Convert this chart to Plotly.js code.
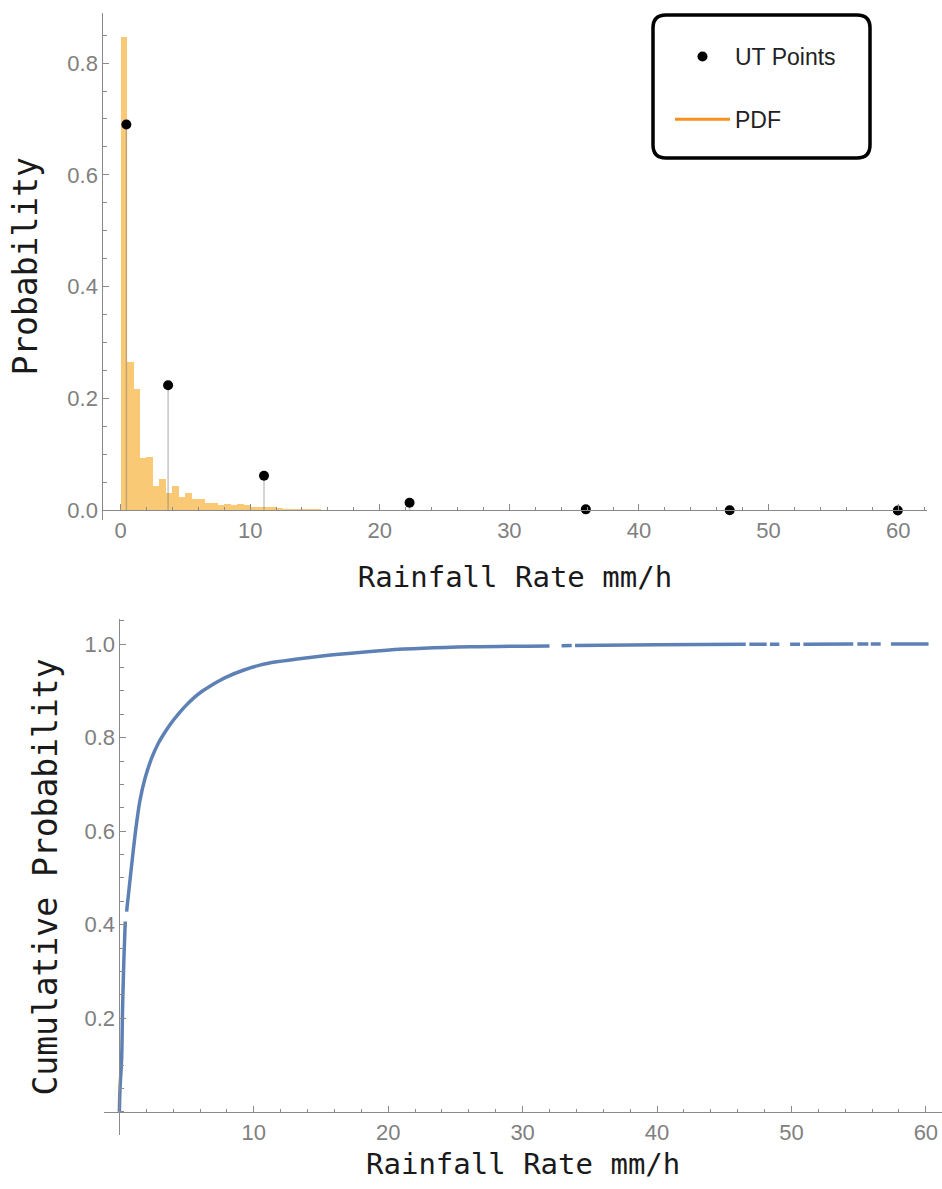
<!DOCTYPE html>
<html><head><meta charset="utf-8">
<script src="https://cdn.plot.ly/plotly-3.0.1.min.js"></script>
<style>html,body{margin:0;padding:0;background:#fff;}#chart{width:942px;height:1189px;}</style>
</head><body><div id="chart"></div>
<script>
// ---------- DATA ----------
// Histogram of rainfall rate (PDF): bin left edges (mm/h, width 0.5) and density
const binLeft = [0,0.5,1,1.5,2,2.5,3,3.5,4,4.5,5,5.5,6,6.5,7,7.5,8,8.5,9,9.5,10,10.5,11,11.5,12,12.5,13,13.5,14,14.5,15,15.5,16];
const pdfDensity = [0.846,0.266,0.217,0.093,0.095,0.044,0.057,0.032,0.044,0.024,0.032,0.020,0.021,0.013,0.014,0.0105,0.012,0.0105,0.011,0.009,0.007,0.0066,0.0054,0.006,0.0042,0.003,0.0025,0.002,0.002,0.002,0.0018,0.0015,0.001];
// Unscented-transform points
const utX = [0.45, 3.67, 11.07, 22.3, 35.9, 47.0, 59.97];
const utY = [0.690, 0.224, 0.062, 0.0137, 0.002, 0.0003, 0.0001];
// Empirical cumulative distribution (null = gap in the plotted curve)
const cdfX = [0,0.05,0.17,0.24,0.34,0.44,null,0.54,0.79,1.04,1.28,1.53,1.90,2.40,2.90,3.40,3.90,4.40,5.00,5.50,6.10,6.74,7.40,8.00,9.22,10.46,11.70,14.18,15.9,19.9,26.1,32.0,null,32.9,33.65,null,33.9,40,46.6,null,46.87,48.16,null,48.4,49.1,null,49.9,50.64,null,50.89,54.6,null,54.9,55.72,null,55.9,56.64,null,57.4,60.2];
const cdfY = [0,0.05,0.115,0.222,0.329,0.407,null,0.428,0.495,0.560,0.617,0.665,0.712,0.756,0.788,0.812,0.833,0.851,0.870,0.884,0.898,0.910,0.921,0.930,0.944,0.955,0.962,0.9715,0.977,0.987,0.994,0.996,null,0.9965,0.997,null,0.997,0.9985,0.9995,null,0.9995,0.9996,null,0.9997,0.9997,null,0.9998,0.9998,null,0.9998,0.9999,null,0.9999,0.9999,null,0.9999,1.0,null,1.0,1.0];
// Tick labels
const topXTicks = [0,10,20,30,40,50,60];
const topYTicks = [0,0.2,0.4,0.6,0.8];
const botXTicks = [10,20,30,40,50,60];
const botYTicks = [0.2,0.4,0.6,0.8,1.0];
const xTitle = 'Rainfall Rate mm/h';
const topYTitle = 'Probability';
const botYTitle = 'Cumulative Probability';

// ---------- LAYOUT HELPERS ----------
const W = 942, H = 1189;
const px = v => v / W;
const py = v => 1 - v / H;

const axisCol = '#8a8a8a';
const tickFont = {family: 'Liberation Sans, Arial, sans-serif', size: 22, color: '#808080'};
const titleFontX = {family: 'DejaVu Sans Mono, monospace', size: 29, color: '#1a1a1a'};
const titleFontY = {family: 'DejaVu Sans Mono, monospace', size: 33, color: '#1a1a1a'};

function roundRect(l, t, r, b, rad) {
  const L = px(l), R = px(r), T = py(t), B = py(b);
  const rx = rad / W, ry = rad / H;
  return `M${L+rx},${T} L${R-rx},${T} Q${R},${T} ${R},${T-ry} L${R},${B+ry} Q${R},${B} ${R-rx},${B} L${L+rx},${B} Q${L},${B} ${L},${B+ry} L${L},${T-ry} Q${L},${T} ${L+rx},${T} Z`;
}

const traces = [
  {type: 'bar', x: binLeft, y: pdfDensity, width: 0.5, offset: 0,
   marker: {color: 'rgb(249,201,118)', line: {width: 0}},
   xaxis: 'x', yaxis: 'y', showlegend: false, hoverinfo: 'x+y'},
  {type: 'scatter', mode: 'markers', x: utX, y: utY, name: 'UT Points',
   legendgroup: 'a',
   marker: {color: '#000', size: 10},
   error_y: {type: 'data', symmetric: false, array: utY.map(() => 0), arrayminus: utY,
             width: 0, thickness: 1.5, color: 'rgba(110,110,110,0.4)'},
   xaxis: 'x', yaxis: 'y'},
  {type: 'scatter', mode: 'lines', x: [null], y: [null], name: 'PDF',
   legendgroup: 'b',
   line: {color: '#F7901E', width: 3}, xaxis: 'x', yaxis: 'y'},
  {type: 'scatter', mode: 'lines', x: cdfX, y: cdfY, connectgaps: false,
   line: {color: '#5E81B5', width: 3.5, shape: 'spline', smoothing: 1},
   xaxis: 'x2', yaxis: 'y2', showlegend: false}
];

const common = {showgrid: false, zeroline: false, showline: true, linecolor: axisCol, linewidth: 1,
  ticks: 'inside', ticklen: 6, tickcolor: axisCol, tickwidth: 1, tickfont: tickFont, automargin: false};

const layout = {
  width: W, height: H,
  margin: {l: 0, r: 0, t: 0, b: 0},
  paper_bgcolor: '#fff', plot_bgcolor: 'rgba(0,0,0,0)',
  bargap: 0,
  showlegend: true,
  legend: {x: px(670), y: py(35), xanchor: 'left', yanchor: 'top',
    bgcolor: 'rgba(0,0,0,0)', borderwidth: 0,
    font: {family: 'Liberation Sans, Arial, sans-serif', size: 23, color: '#222'},
    itemwidth: 55, tracegroupgap: 30, traceorder: 'grouped'},
  xaxis: Object.assign({}, common, {
    domain: [px(103.3), px(926.7)], range: [-1.33, 62.2],
    anchor: 'free', position: py(510.3),
    tickmode: 'array', tickvals: topXTicks, ticktext: topXTicks.map(String),
    minor: {ticks: 'inside', ticklen: 3.5, tickcolor: axisCol, tickmode: 'linear', tick0: 0, dtick: 2},
    title: {text: xTitle, font: titleFontX, standoff: 24}
  }),
  yaxis: Object.assign({}, common, {
    domain: [py(520), py(12.7)], range: [-0.017, 0.89],
    anchor: 'x',
    tickmode: 'array', tickvals: topYTicks, ticktext: topYTicks.map(v => v.toFixed(1)),
    minor: {ticks: 'inside', ticklen: 3.5, tickcolor: axisCol, tickmode: 'linear', tick0: 0, dtick: 0.05},
    title: {text: topYTitle, font: titleFontY, standoff: 19}
  }),
  xaxis2: Object.assign({}, common, {
    domain: [px(104.3), 1], range: [-1.12, 61.2],
    anchor: 'free', position: py(1112.3),
    tickmode: 'array', tickvals: botXTicks, ticktext: botXTicks.map(String),
    minor: {ticks: 'inside', ticklen: 3.5, tickcolor: axisCol, tickmode: 'linear', tick0: 0, dtick: 2},
    title: {text: xTitle, font: titleFontX, standoff: 9}
  }),
  yaxis2: Object.assign({}, common, {
    domain: [py(1135.3), py(618.8)], range: [-0.05, 1.054],
    anchor: 'free', position: px(119.4),
    tickmode: 'array', tickvals: botYTicks, ticktext: botYTicks.map(v => v.toFixed(1)),
    minor: {ticks: 'inside', ticklen: 3.5, tickcolor: axisCol, tickmode: 'linear', tick0: 0, dtick: 0.05},
    title: {text: botYTitle, font: titleFontY, standoff: 15}
  }),
  shapes: [
    {type: 'path', xref: 'paper', yref: 'paper', path: roundRect(653, 15, 870, 158, 13),
     line: {color: '#000', width: 3.5}, fillcolor: 'rgba(0,0,0,0)', layer: 'above'}
  ]
};

Plotly.newPlot('chart', traces, layout, {displayModeBar: false, staticPlot: true});
</script>
</body></html>
